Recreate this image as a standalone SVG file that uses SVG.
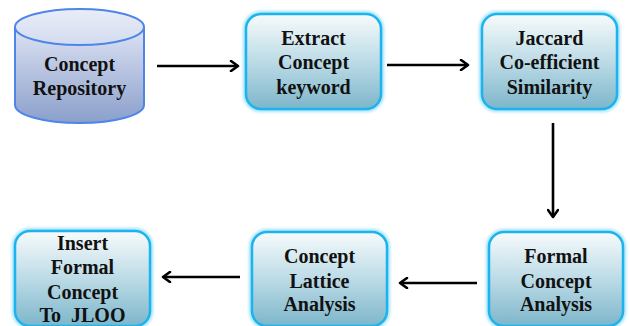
<svg xmlns="http://www.w3.org/2000/svg" width="630" height="326" viewBox="0 0 630 326">
  <defs>
    <linearGradient id="boxFill" x1="0" y1="0" x2="0" y2="1">
      <stop offset="0" stop-color="#f7fbfc"/>
      <stop offset="0.5" stop-color="#bcdbe6"/>
      <stop offset="1" stop-color="#7db6ca"/>
    </linearGradient>
    <linearGradient id="cylFill" x1="0" y1="0" x2="0" y2="1">
      <stop offset="0" stop-color="#dde3f3"/>
      <stop offset="1" stop-color="#8b9fcb"/>
    </linearGradient>
    <linearGradient id="cylTop" x1="0" y1="0" x2="0" y2="1">
      <stop offset="0" stop-color="#e9edf8"/>
      <stop offset="1" stop-color="#d3dbef"/>
    </linearGradient>
    <filter id="glow" x="-10%" y="-10%" width="120%" height="120%">
      <feGaussianBlur stdDeviation="1.6"/>
    </filter>
    <marker id="arrow" markerWidth="12" markerHeight="12" viewBox="0 0 12 12" refX="10" refY="6" orient="auto" markerUnits="userSpaceOnUse">
      <path d="M3,1 L10,6 L3,11" fill="none" stroke="#000" stroke-width="2.6" stroke-linecap="round" stroke-linejoin="round"/>
    </marker>
    <style>
      .box { fill: url(#boxFill); stroke: #1db4ee; stroke-width: 2.5; }
      .halo { fill: none; stroke: #9fe2fa; stroke-width: 6; filter: url(#glow); }
      .lbl { font-family: "Liberation Serif", serif; font-weight: bold; font-size: 20px; fill: #111; text-anchor: middle; }
      .conn { stroke: #000; stroke-width: 2.6; fill: none; marker-end: url(#arrow); }
    </style>
  </defs>

  <rect width="630" height="326" fill="#ffffff"/>

  <!-- Concept repository drum -->
  <g id="repository">
    <path d="M15,27 L15,105 A64.5,18 0 0 0 144,105 L144,27" fill="url(#cylFill)" stroke="#4d86e8" stroke-width="2"/>
    <ellipse cx="79.5" cy="27" rx="64.5" ry="18" fill="url(#cylTop)" stroke="#4d86e8" stroke-width="2"/>
    <text class="lbl" x="79.5" y="71">Concept</text>
    <text class="lbl" x="79.5" y="95">Repository</text>
  </g>

  <g id="extract">
    <rect class="halo" x="246" y="14" width="135" height="95" rx="15"/>
    <rect class="box" x="246" y="14" width="135" height="95" rx="15"/>
    <text class="lbl" x="313.5" y="45">Extract</text>
    <text class="lbl" x="313.5" y="69">Concept</text>
    <text class="lbl" x="313.5" y="94">keyword</text>
  </g>

  <g id="jaccard">
    <rect class="halo" x="482" y="14" width="135" height="95" rx="15"/>
    <rect class="box" x="482" y="14" width="135" height="95" rx="15"/>
    <text class="lbl" x="549.5" y="45">Jaccard</text>
    <text class="lbl" x="549.5" y="69">Co-efficient</text>
    <text class="lbl" x="549.5" y="94">Similarity</text>
  </g>

  <g id="formal">
    <rect class="halo" x="489" y="232" width="134" height="94" rx="15"/>
    <rect class="box" x="489" y="232" width="134" height="94" rx="15"/>
    <text class="lbl" x="556" y="263">Formal</text>
    <text class="lbl" x="556" y="288">Concept</text>
    <text class="lbl" x="556" y="311">Analysis</text>
  </g>

  <g id="lattice">
    <rect class="halo" x="252" y="232" width="135" height="94" rx="15"/>
    <rect class="box" x="252" y="232" width="135" height="94" rx="15"/>
    <text class="lbl" x="319.5" y="263">Concept</text>
    <text class="lbl" x="319.5" y="288">Lattice</text>
    <text class="lbl" x="319.5" y="311">Analysis</text>
  </g>

  <g id="insert">
    <rect class="halo" x="15" y="231" width="135" height="95" rx="15"/>
    <rect class="box" x="15" y="231" width="135" height="95" rx="15"/>
    <text class="lbl" x="82.5" y="250">Insert</text>
    <text class="lbl" x="82.5" y="274">Formal</text>
    <text class="lbl" x="82.5" y="299">Concept</text>
    <text class="lbl" x="82.5" y="322">To&#160; JLOO</text>
  </g>

  <g id="connectors">
    <line class="conn" x1="157" y1="66" x2="238" y2="66"/>
    <line class="conn" x1="387" y1="65" x2="468" y2="65"/>
    <line class="conn" x1="553" y1="123" x2="553" y2="217"/>
    <line class="conn" x1="477" y1="283" x2="400" y2="283"/>
    <line class="conn" x1="240" y1="277" x2="163" y2="277"/>
  </g>
</svg>
